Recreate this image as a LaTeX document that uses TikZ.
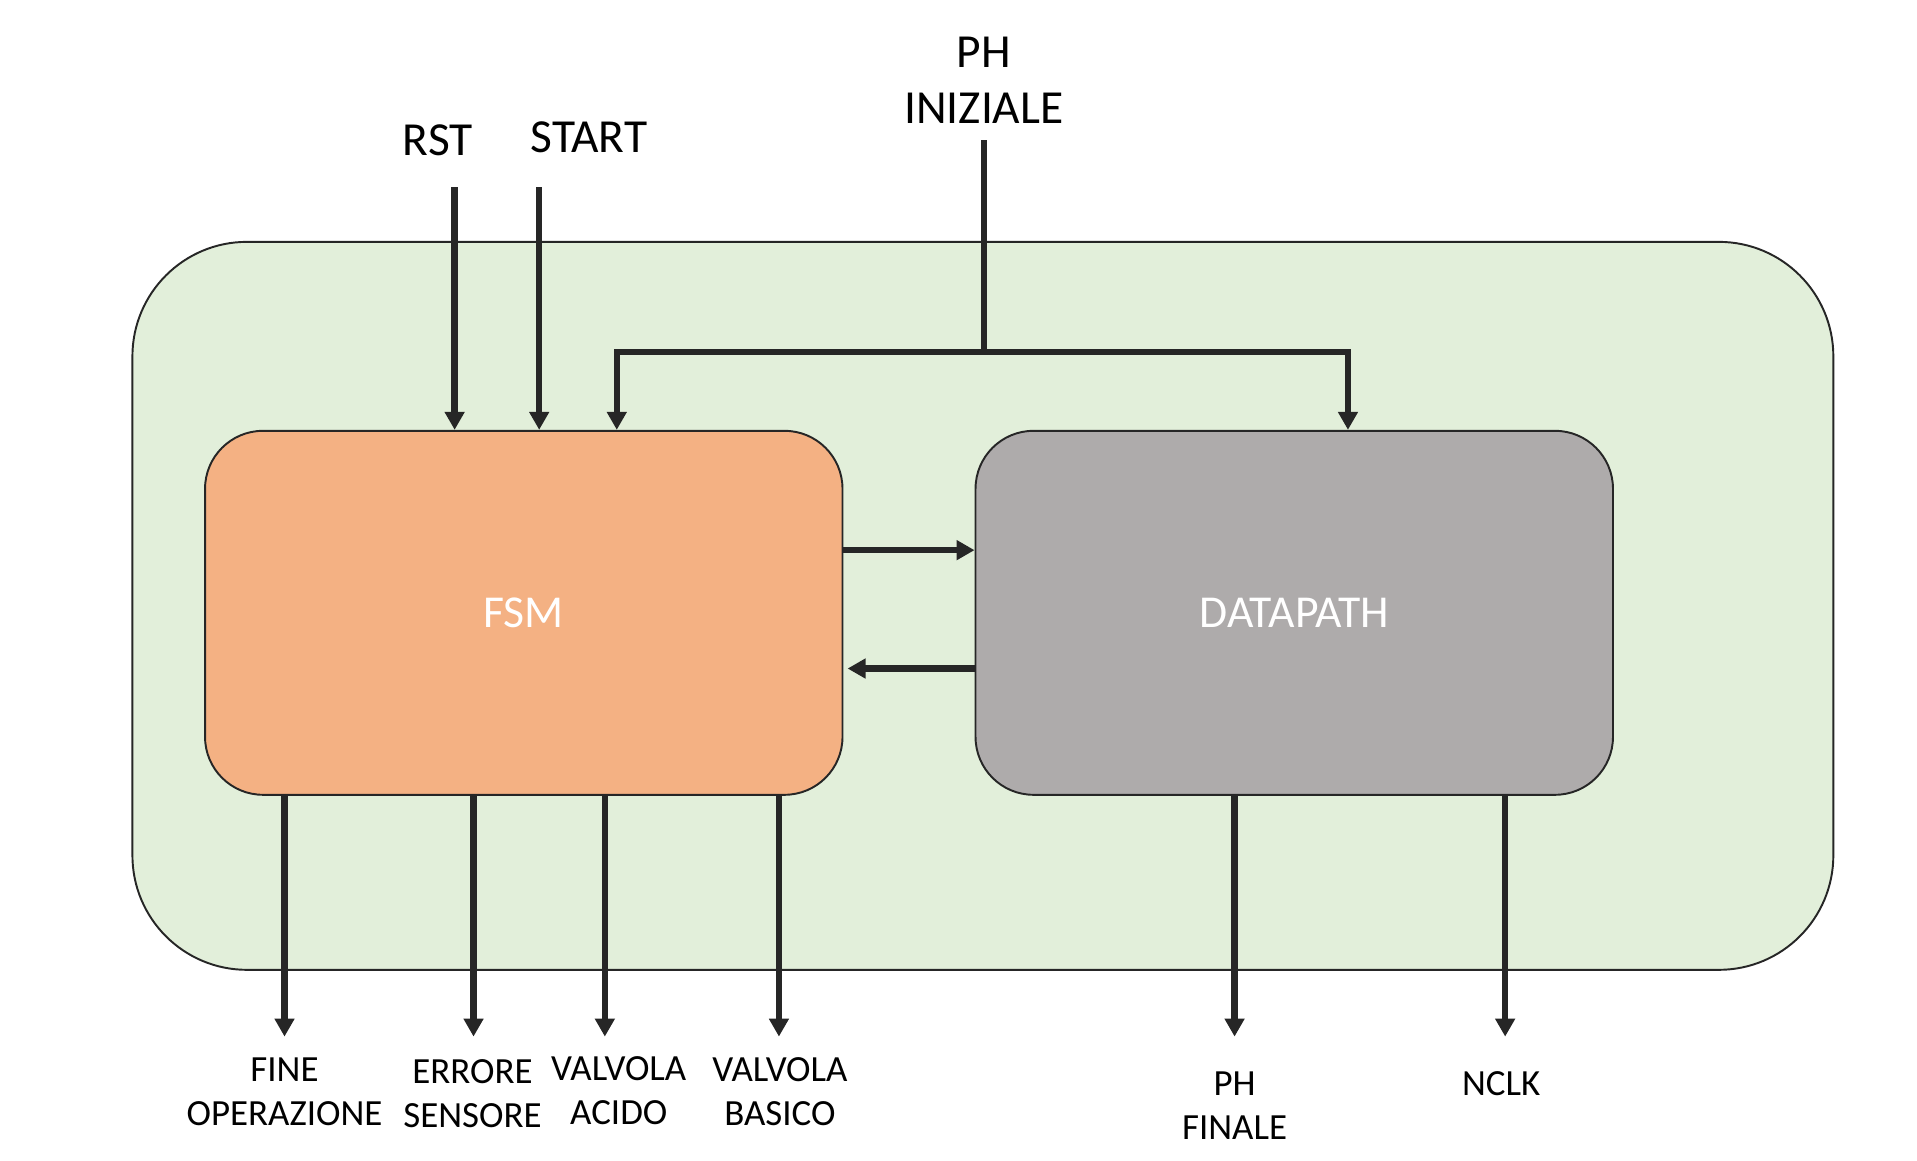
\documentclass[tikz,border=0pt]{standalone}
\usepackage{fontspec}
\setmainfont{Carlito}
\usetikzlibrary{arrows.meta}
\definecolor{outergreen}{HTML}{E2EFDA}
\definecolor{fsmorange}{HTML}{F4B183}
\definecolor{dpgray}{HTML}{AEABAB}
\definecolor{linegray}{HTML}{262626}

\begin{document}
\begin{tikzpicture}[x=0.019896cm,y=-0.019896cm,
    block/.style={draw=linegray, line width=1.1pt, rounded corners=1.16cm,
      minimum width=12.75cm, minimum height=7.28cm, text=white,
      font=\fontsize{26}{30}\selectfont},
    sig/.style={draw=linegray, line width=3.6pt,
      -{Triangle[length=10.2pt,width=10.8pt]}},
    inlabel/.style={font=\fontsize{27}{32}\selectfont, align=center, text=black},
    outlabel/.style={font=\fontsize{21}{25}\selectfont, align=center, text=black}]
      \useasboundingbox (0,0) rectangle (1927,1167);

      % outer box and the two blocks
      \node[draw=linegray, line width=1.1pt, fill=outergreen, rounded corners=2.29cm,
        minimum width=34.02cm, minimum height=14.56cm] (top) at (988,609) {};
      \node[block, fill=fsmorange] (fsm) at (526.5,616) {FSM};
      \node[block, fill=dpgray] (dp) at (1301,616) {DATAPATH};

      % inputs
      \node[inlabel] (rst) at (440,141) {RST};
      \node[inlabel] (start) at (592,138) {START};
      \node[inlabel] (phin) at (989,81) {PH\\INIZIALE};
      \coordinate (rstin) at (457,188);
      \coordinate (startin) at (542,188);
      \coordinate (phtop) at (989,141);
      \coordinate (phsplit) at (989,354);
      \coordinate (phleft) at (620,354);
      \coordinate (phright) at (1355,354);

      \draw[sig] (rstin) -- (rstin |- fsm.north);
      \draw[sig] (startin) -- (startin |- fsm.north);
      \draw[draw=linegray, line width=3.6pt] (phtop) -- (phsplit);
      \draw[sig, line cap=rect] (phsplit) -- (phleft) -- (phleft |- fsm.north);
      \draw[sig, line cap=rect] (phsplit) -- (phright) -- (phright |- dp.north);

      % between the blocks
      \coordinate (back) at (852,672);
      \draw[sig] (fsm.east |- 0,553) -- (dp.west |- 0,553);
      \draw[sig] (dp.west |- back) -- (back);

      % outputs
      \node[outlabel] (fine) at (286,1097) {FINE\\OPERAZIONE};
      \node[outlabel] (errore) at (475,1099) {ERRORE\\SENSORE};
      \node[outlabel] (acido) at (622,1096) {VALVOLA\\ACIDO};
      \node[outlabel] (basico) at (784,1097) {VALVOLA\\BASICO};
      \node[outlabel] (phout) at (1241,1111) {PH\\FINALE};
      \node[outlabel] (nclk) at (1509,1089) {NCLK};

      \foreach \x in {286,476,608,783}
        \draw[sig] (fsm.south -| \x,0) -- (\x,1042);
      \foreach \x in {1241,1513}
        \draw[sig] (dp.south -| \x,0) -- (\x,1042);
    \end{tikzpicture}
\end{document}
